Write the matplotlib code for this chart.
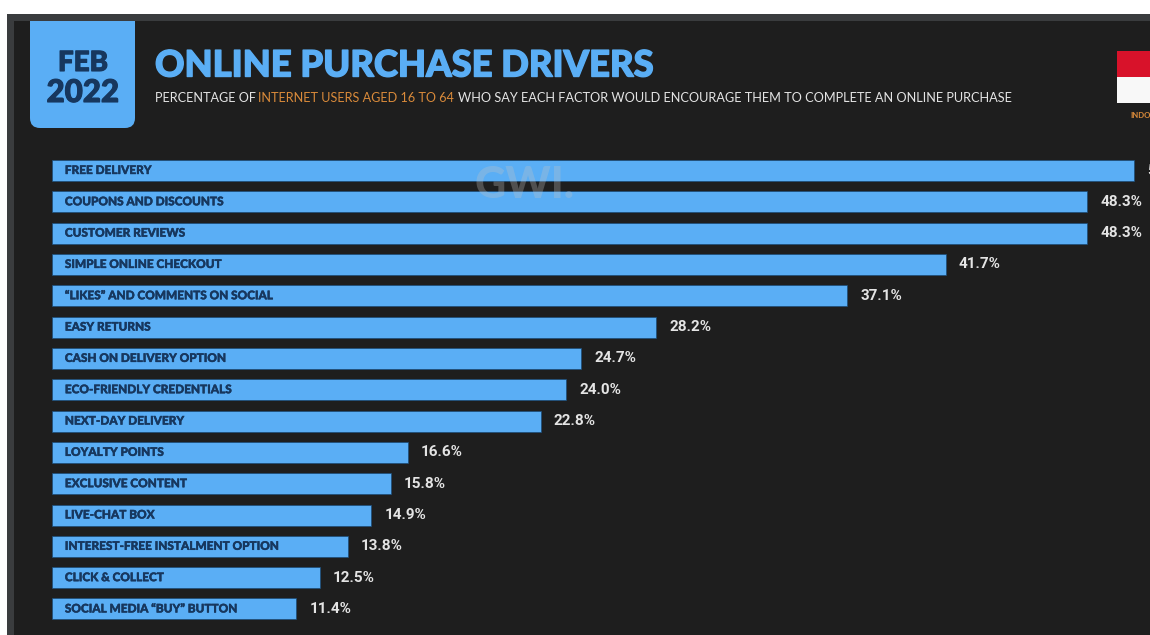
import matplotlib
matplotlib.use('Agg')
import matplotlib.pyplot as plt
import matplotlib.patheffects as pe
from matplotlib.patches import Rectangle, FancyBboxPatch

# share of internet users, in percent
factors = ['FREE DELIVERY', 'COUPONS AND DISCOUNTS', 'CUSTOMER REVIEWS', 'SIMPLE ONLINE CHECKOUT',
           '“LIKES” AND COMMENTS ON SOCIAL', 'EASY RETURNS', 'CASH ON DELIVERY OPTION',
           'ECO-FRIENDLY CREDENTIALS', 'NEXT-DAY DELIVERY', 'LOYALTY POINTS', 'EXCLUSIVE CONTENT',
           'LIVE-CHAT BOX', 'INTEREST-FREE INSTALMENT OPTION', 'CLICK & COLLECT', 'SOCIAL MEDIA “BUY” BUTTON']
shares = [50.5, 48.3, 48.3, 41.7, 37.1, 28.2, 24.7, 24.0, 22.8, 16.6, 15.8, 14.9, 13.8, 12.5, 11.4]

W, H = 1150, 635
BLUE = '#5aaef5'
NAVY = '#17375e'
ORANGE = '#d98a3a'
DARK = '#1e1e1e'
BAND = '#3a3c3e'
TEXT = '#e4e4e4'
HEAD_FONT = 'Lato'


def fatten(color, width):
    # thicken the display type a little beyond the heaviest installed weight
    return [pe.withStroke(linewidth=width, foreground=color)]


fig = plt.figure(figsize=(W / 100, H / 100), dpi=100, facecolor='white')

# overlay in pixel coordinates for the slide furniture
bg = fig.add_axes([0, 0, 1, 1])
bg.set_xlim(0, W)
bg.set_ylim(H, 0)
bg.axis('off')
bg.add_patch(Rectangle((7, 14), W - 7, H - 14, fc=BAND, ec='none', zorder=1))
bg.add_patch(Rectangle((14, 21), W - 14, H - 21, fc=DARK, ec='none', zorder=1))

# date badge hangs from the top band, so only its lower corners show
bg.add_patch(FancyBboxPatch((30, -20), 105, 148, boxstyle='round,pad=0,rounding_size=10', fc=BLUE, ec='none',
                            zorder=2))
bg.add_patch(Rectangle((7, 14), W - 7, 7, fc=BAND, ec='none', zorder=3))
bg.add_patch(Rectangle((0, 0), W, 14, fc='white', ec='none', zorder=3))
bg.text(83, 63, 'FEB', color=NAVY, fontsize=20, fontweight='black', family=HEAD_FONT, ha='center', va='center',
        path_effects=fatten(NAVY, 0.8), zorder=4)
bg.text(83, 93, '2022', color=NAVY, fontsize=22.5, fontweight='black', family=HEAD_FONT, ha='center', va='center',
        path_effects=fatten(NAVY, 0.8), zorder=4)

bg.text(155, 66, 'ONLINE PURCHASE DRIVERS', color=BLUE, fontsize=26.2, fontweight='black', family=HEAD_FONT,
        ha='left', va='center', path_effects=fatten(BLUE, 1.0), zorder=4)
bg.text(155, 98, 'PERCENTAGE OF', color=TEXT, fontsize=9.1, family=HEAD_FONT, ha='left', va='center', zorder=4)
bg.text(258, 98, 'INTERNET USERS AGED 16 TO 64', color=ORANGE, fontsize=9.1, family=HEAD_FONT, ha='left', va='center',
        zorder=4)
bg.text(458, 98, 'WHO SAY EACH FACTOR WOULD ENCOURAGE THEM TO COMPLETE AN ONLINE PURCHASE', color=TEXT,
        fontsize=9.2, family=HEAD_FONT, ha='left', va='center', zorder=4)

# flag, cut by the right edge
bg.add_patch(Rectangle((1117, 51), 40, 26, fc='#d8122a', ec='none', zorder=2))
bg.add_patch(Rectangle((1117, 77), 40, 26, fc='#f8f8f8', ec='none', zorder=2))
bg.text(1130, 115, 'INDONESIA', color=ORANGE, fontsize=5.6, fontweight='bold', family=HEAD_FONT, ha='left',
        va='center', zorder=4)

# bars: 21.43 px per percentage point from x=52, 31.32 px per row from y=170.5
PX_PER_PCT = 21.43
ROW = 31.32
ax = fig.add_axes([52 / W, 0, (W - 52) / W, (H - 154.84) / H])
ax.patch.set_alpha(0)
ax.set_xlim(0, (W - 52) / PX_PER_PCT)
ax.set_ylim((H - 170.5) / ROW, -0.5)
ax.axis('off')
ypos = list(range(len(factors)))
ax.barh(ypos, shares, height=21 / ROW, color=BLUE, edgecolor='#1a4a75', linewidth=0.5)

for y, name, val in zip(ypos, factors, shares):
    ax.text(0.6, y, name, color=NAVY, fontsize=8.5, fontweight='black', family=HEAD_FONT, ha='left', va='center',
            path_effects=fatten(NAVY, 0.3))
    ax.text(val + 0.62, y, f'{val:.1f}%', color=TEXT, fontsize=11, fontweight='bold', family='Roboto',
            ha='left', va='center', clip_on=False)

# source watermark over the top bars
top = fig.add_axes([0, 0, 1, 1])
top.set_xlim(0, W)
top.set_ylim(H, 0)
top.axis('off')
top.patch.set_alpha(0)
top.text(524, 185, 'GWI.', color='#c4c4c4', alpha=0.3, fontsize=31, fontweight='black', family=HEAD_FONT,
         ha='center', va='center')

fig.savefig('out.png', dpi=100, facecolor='white')
